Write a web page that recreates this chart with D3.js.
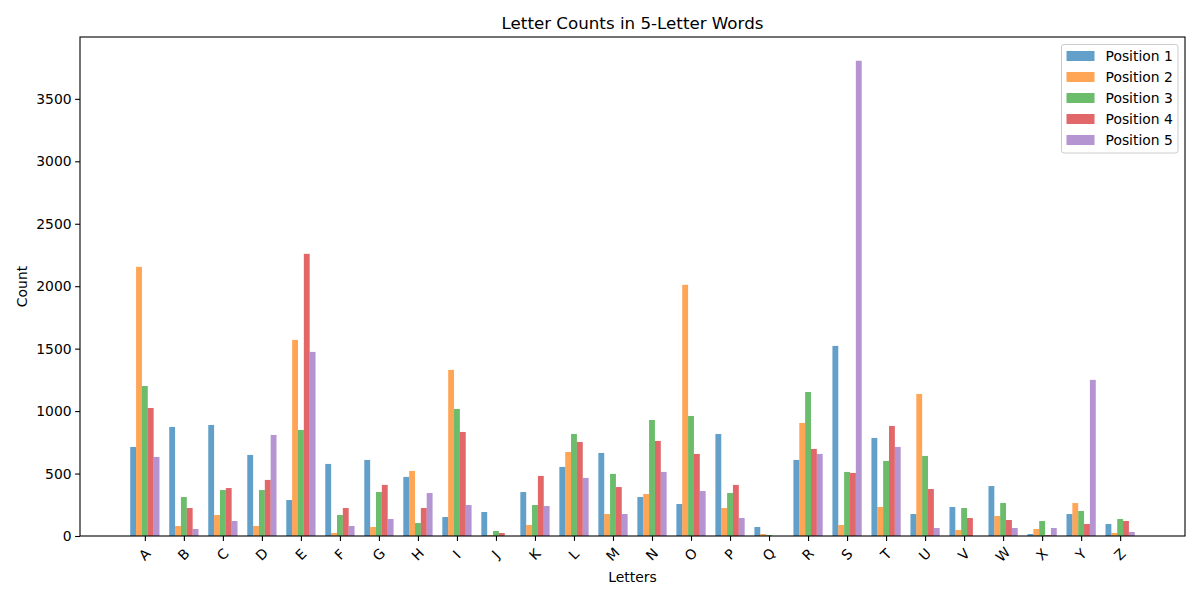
<!DOCTYPE html>
<html>
<head>
<meta charset="utf-8">
<script src="https://cdn.jsdelivr.net/npm/d3@7"></script>
<style>
  body { margin: 0; background: #fff; }
  text { font-family: "DejaVu Sans", sans-serif; }
</style>
</head>
<body>
<div id="chart"></div>
<script>
// letters on the x axis
var letters = ["A","B","C","D","E","F","G","H","I","J","K","L","M",
               "N","O","P","Q","R","S","T","U","V","W","X","Y","Z"];

// counts per letter position
var pos1 = [713, 873, 889, 649, 288, 577, 609, 473, 152, 192, 352, 553, 665,
            312, 256, 817, 72, 609, 1522, 785, 176, 232, 400, 16, 176, 96];
var pos2 = [2155, 80, 168, 80, 1570, 24, 72, 521, 1330, 8, 88, 673, 176,
            336, 2011, 224, 16, 905, 88, 232, 1137, 48, 160, 56, 264, 24];
var pos3 = [1201, 312, 368, 368, 849, 168, 352, 104, 1017, 40, 248, 817, 497,
            929, 961, 344, 8, 1153, 513, 601, 641, 224, 264, 120, 200, 136];
var pos4 = [1025, 224, 384, 449, 2259, 224, 409, 224, 833, 24, 481, 753, 392,
            761, 657, 409, 0, 697, 505, 881, 376, 144, 128, 8, 96, 120];
var pos5 = [633, 56, 120, 809, 1474, 80, 136, 344, 248, 0, 240, 465, 176,
            513, 360, 144, 0, 657, 3805, 713, 64, 0, 64, 64, 1250, 32];

var seriesNames = ["Position 1", "Position 2", "Position 3", "Position 4", "Position 5"];
var yTicks = [0, 500, 1000, 1500, 2000, 2500, 3000, 3500];

var series = [pos1, pos2, pos3, pos4, pos5];
var colors = ["#1f77b4", "#ff7f0e", "#2ca02c", "#d62728", "#9467bd"];

var width = 1200, height = 600;
var margin = { top: 37, right: 15, bottom: 64, left: 80 };
var barW = 0.15;

var svg = d3.select("#chart")
  .append("svg")
  .attr("width", width)
  .attr("height", height);

// matplotlib-like margins: 5% on x around bar extent
var lo = -2.5 * barW, hi = letters.length - 1 + 2.5 * barW;
var pad = (hi - lo) * 0.05;
var x = d3.scaleLinear()
  .domain([lo - pad, hi + pad])
  .range([margin.left, width - margin.right]);

var yMax = d3.max(series, function(s) { return d3.max(s); }) * 1.05;
var y = d3.scaleLinear()
  .domain([0, yMax])
  .range([height - margin.bottom, margin.top]);

// bars
series.forEach(function(vals, i) {
  svg.append("g")
    .selectAll("rect")
    .data(vals)
    .join("rect")
    .attr("x", function(d, j) { return x(j + (i - 2.5) * barW); })
    .attr("y", function(d) { return y(d); })
    .attr("width", x(barW) - x(0))
    .attr("height", function(d) { return y(0) - y(d); })
    .attr("fill", colors[i])
    .attr("fill-opacity", 0.7);
});

// axes
var xAxis = d3.axisBottom(x)
  .tickValues(d3.range(letters.length))
  .tickFormat(function(d) { return letters[d]; })
  .tickSize(4.9).tickSizeOuter(0).tickPadding(3.5);

var gx = svg.append("g")
  .attr("transform", "translate(0," + y(0) + ")")
  .call(xAxis);
gx.selectAll("text")
  .attr("font-size", "13.9px")
  .attr("fill", "#000")
  .attr("dy", null)
  .attr("y", 0)
  .attr("text-anchor", "middle")
  .attr("transform", "translate(0,19) rotate(-45)")
  .attr("dominant-baseline", "middle");

var yAxis = d3.axisLeft(y)
  .tickValues(yTicks)
  .tickFormat(d3.format("d"))
  .tickSize(4.9).tickSizeOuter(0).tickPadding(3.5);
var gy = svg.append("g")
  .attr("transform", "translate(" + margin.left + ",0)")
  .call(yAxis);
gy.selectAll("text").attr("font-size", "13.9px").attr("fill", "#000");

svg.selectAll(".domain").remove();
svg.selectAll(".tick line").attr("stroke", "#000").attr("stroke-width", 1.1);

// frame
svg.append("rect")
  .attr("x", margin.left)
  .attr("y", margin.top)
  .attr("width", width - margin.left - margin.right)
  .attr("height", height - margin.top - margin.bottom)
  .attr("fill", "none")
  .attr("stroke", "#000")
  .attr("stroke-width", 1.1);

// title and labels
svg.append("text")
  .attr("x", (margin.left + width - margin.right) / 2)
  .attr("y", 29)
  .attr("text-anchor", "middle")
  .attr("font-size", "16.7px")
  .text("Letter Counts in 5-Letter Words");

svg.append("text")
  .attr("x", (margin.left + width - margin.right) / 2)
  .attr("y", 582)
  .attr("text-anchor", "middle")
  .attr("font-size", "13.9px")
  .text("Letters");

svg.append("text")
  .attr("transform", "translate(27," + ((margin.top + height - margin.bottom) / 2) + ") rotate(-90)")
  .attr("text-anchor", "middle")
  .attr("font-size", "13.9px")
  .text("Count");

// legend
var legend = svg.append("g").attr("transform", "translate(1061.5,44.5)");
legend.append("rect")
  .attr("width", 116.5)
  .attr("height", 108.5)
  .attr("rx", 2.5)
  .attr("fill", "#fff")
  .attr("fill-opacity", 0.8)
  .attr("stroke", "#ccc")
  .attr("stroke-width", 1);

seriesNames.forEach(function(name, i) {
  var row = legend.append("g").attr("transform", "translate(0," + (11.5 + i * 21) + ")");
  row.append("rect")
    .attr("x", 5)
    .attr("y", -5)
    .attr("width", 28)
    .attr("height", 10)
    .attr("fill", colors[i])
    .attr("fill-opacity", 0.7);
  row.append("text")
    .attr("x", 44)
    .attr("y", 0)
    .attr("dy", "0.35em")
    .attr("font-size", "13.9px")
    .attr("fill", "#000")
    .text(name);
});
</script>
</body>
</html>
